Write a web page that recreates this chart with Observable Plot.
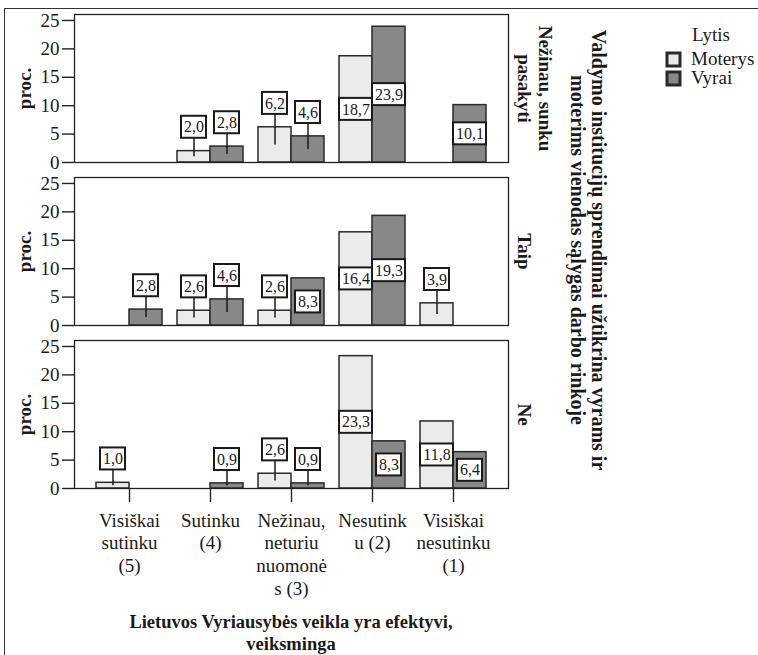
<!DOCTYPE html>
<html>
<head>
<meta charset="utf-8">
<script src="https://cdn.jsdelivr.net/npm/d3@7"></script>
<script src="https://cdn.jsdelivr.net/npm/@observablehq/plot@0.6"></script>
<style>
  html, body { margin: 0; padding: 0; background: #fff; }
  #wrap { position: relative; width: 758px; height: 655px; overflow: hidden; background: #fff;
          font-family: 'Liberation Serif', 'Times New Roman', serif; color: #1a1a1a; }
  #border { position: absolute; left: 4px; top: 8px; width: 900px; height: 900px; border: 1.5px solid #333; }
  #chart { position: absolute; left: 0; top: 0; }
  #rtitle { position: absolute; width: 520px; height: 42px; left: 328px; top: 229px; text-align: center;
            font-weight: bold; font-size: 20px; line-height: 21px; transform: rotate(90deg); transform-origin: 50% 50%; white-space: nowrap; }
  #xtitle { position: absolute; left: 41px; width: 500px; top: 611px; text-align: center;
            font-weight: bold; font-size: 18.5px; line-height: 22px; }
  #legend { position: absolute; left: 667px; top: 24px; font-size: 19px; font-family: 'Liberation Serif', serif; }
  #legend .ltitle { margin-left: 25px; line-height: 22px; }
  #lg { margin-top: 4px; }
  #lg * { overflow: visible !important; text-overflow: clip !important; }
  #lg svg { margin-right: 11px !important; flex-shrink: 0; }
  #lg svg rect { stroke: #2a2a2a; stroke-width: 3px; }
  #lg div[class$="-swatch"] { line-height: 18px; padding-bottom: 1px; }
</style>
</head>
<body>
<div id="wrap">
  <div id="border"></div>
  <div id="chart"></div>
  <div id="rtitle">Valdymo institucijų sprendimai užtikrina vyrams ir<br>moterims vienodas sąlygas darbo rinkoje</div>
  <div id="xtitle">Lietuvos Vyriausybės veikla yra efektyvi,<br>veiksminga</div>
  <div id="legend"><div class="ltitle">Lytis</div><div id="lg"></div></div>
</div>
<script>
const rows = ["Nežinau, sunku pasakyti", "Taip", "Ne"];
const rowLabels = ["Nežinau, sunku\npasakyti", "Taip", "Ne"];
const categories = ["Visiškai sutinku (5)", "Sutinku (4)", "Nežinau, neturiu nuomonės (3)", "Nesutinku (2)", "Visiškai nesutinku (1)"];
const categoryLabels = ["Visiškai\nsutinku\n(5)", "Sutinku\n(4)", "Nežinau,\nneturiu\nnuomonė\ns (3)", "Nesutink\nu (2)", "Visiškai\nnesutinku\n(1)"];
const series = ["Moterys", "Vyrai"];
const seriesColors = ["#ebebeb", "#888888"];

const moterysNezinau = [null, 2.0, 6.2, 18.7, null];
const vyraiNezinau   = [null, 2.8, 4.6, 23.9, 10.1];
const moterysTaip    = [null, 2.6, 2.6, 16.4, 3.9];
const vyraiTaip      = [2.8, 4.6, 8.3, 19.3, null];
const moterysNe      = [1.0, null, 2.6, 23.3, 11.8];
const vyraiNe        = [null, 0.9, 0.9, 8.3, 6.4];
const yTicks = [0, 5, 10, 15, 20, 25];

const moterysByRow = [moterysNezinau, moterysTaip, moterysNe];
const vyraiByRow = [vyraiNezinau, vyraiTaip, vyraiNe];

const FONT = "'Liberation Serif', 'Times New Roman', serif";
const fmt = v => d3.format(".1f")(v).replace(".", ",");
const table = [];
rows.forEach((row, r) => {
  [[series[0], moterysByRow[r]], [series[1], vyraiByRow[r]]].forEach(([s, arr]) => {
    arr.forEach((v, i) => {
      if (v == null) return;
      // label inside the bar when it fits, otherwise above the bar
      const labelY = v >= 6.3 ? v / 2 : v + 4.2;
      table.push({row, category: categories[i], series: s, value: v, labelY, text: fmt(v)});
    });
  });
});
const isM = d => d.series === series[0];
const isV = d => d.series === series[1];
const isShort = d => d.text.length <= 3;
const M = table.filter(isM), V = table.filter(isV);

const barStyle = {stroke: "#2a2a2a", strokeWidth: 1.5};
const boxStyle = {fill: "white", stroke: "#1a1a1a", strokeWidth: 2, insetTop: -11, insetBottom: -11};
const txt = {fontSize: 16, fill: "#1a1a1a", fontFamily: FONT};

const chart = Plot.plot({
  width: 758,
  height: 655,
  marginLeft: 74,
  marginRight: 250,
  marginTop: 14,
  marginBottom: 166,
  style: `font-family: ${FONT}; font-size: 19px; color: #1a1a1a; background: transparent; overflow: visible;`,
  x: {domain: categories, paddingInner: 0.1877, paddingOuter: 0.265},
  y: {domain: [0, 26.05]},
  fy: {domain: rows, axis: null, paddingInner: 0.09, paddingOuter: 0},
  marks: [
    Plot.barY(M, {x: "category", y: "value", fy: "row", fill: seriesColors[0], insetRight: 33, ...barStyle}),
    Plot.barY(V, {x: "category", y: "value", fy: "row", fill: seriesColors[1], insetLeft: 33, ...barStyle}),
    Plot.frame({stroke: "#222", strokeWidth: 1.3}),
    Plot.axisY({ticks: yTicks, tickSize: 12, tickPadding: 3, label: null, fontSize: 19, fontFamily: FONT, stroke: "#222", strokeWidth: 1.4}),
    Plot.axisX({tickSize: 14, tickPadding: 8, label: null, fontSize: 19, fontFamily: FONT, lineHeight: 1.2, stroke: "#222", strokeWidth: 1.4,
                tickFormat: d => categoryLabels[categories.indexOf(d)]}),
    Plot.ruleX(M, {x: "category", fy: "row", y1: d => d.value / 2, y2: "labelY", dx: -16.5, stroke: "#1a1a1a", strokeWidth: 1.5}),
    Plot.ruleX(V, {x: "category", fy: "row", y1: d => d.value / 2, y2: "labelY", dx: 16.5, stroke: "#1a1a1a", strokeWidth: 1.5}),
    Plot.barY(M.filter(isShort), {x: "category", fy: "row", y1: "labelY", y2: "labelY", insetLeft: 4, insetRight: 37, ...boxStyle}),
    Plot.barY(M.filter(d => !isShort(d)), {x: "category", fy: "row", y1: "labelY", y2: "labelY", insetLeft: 0, insetRight: 33, ...boxStyle}),
    Plot.barY(V.filter(isShort), {x: "category", fy: "row", y1: "labelY", y2: "labelY", insetLeft: 37, insetRight: 4, ...boxStyle}),
    Plot.barY(V.filter(d => !isShort(d)), {x: "category", fy: "row", y1: "labelY", y2: "labelY", insetLeft: 33, insetRight: 0, ...boxStyle}),
    Plot.text(M, {x: "category", fy: "row", y: "labelY", text: "text", dx: -16.5, ...txt}),
    Plot.text(V, {x: "category", fy: "row", y: "labelY", text: "text", dx: 16.5, ...txt}),
    Plot.text(rows, {fy: d => d, text: () => "proc.", frameAnchor: "left", textAnchor: "middle", dx: -50, rotate: -90,
                     fontWeight: "bold", fontSize: 19, fontFamily: FONT}),
    Plot.text(rows, {fy: d => d, text: (d, i) => rowLabels[i], frameAnchor: "right", textAnchor: "middle", dx: 9, rotate: 90,
                     lineAnchor: "bottom", fontWeight: "bold", fontSize: 19, lineHeight: 1.15, fontFamily: FONT})
  ]
});
document.getElementById("chart").appendChild(chart);

const lg = Plot.legend({
  color: {type: "ordinal", domain: series, range: seriesColors},
  legend: "swatches", columns: 1, swatchSize: 13, width: 150,
  style: `font-family: ${FONT}; font-size: 19px; color: #1a1a1a; background: transparent; margin: 0;`
});
document.getElementById("lg").appendChild(lg);
</script>
</body>
</html>
